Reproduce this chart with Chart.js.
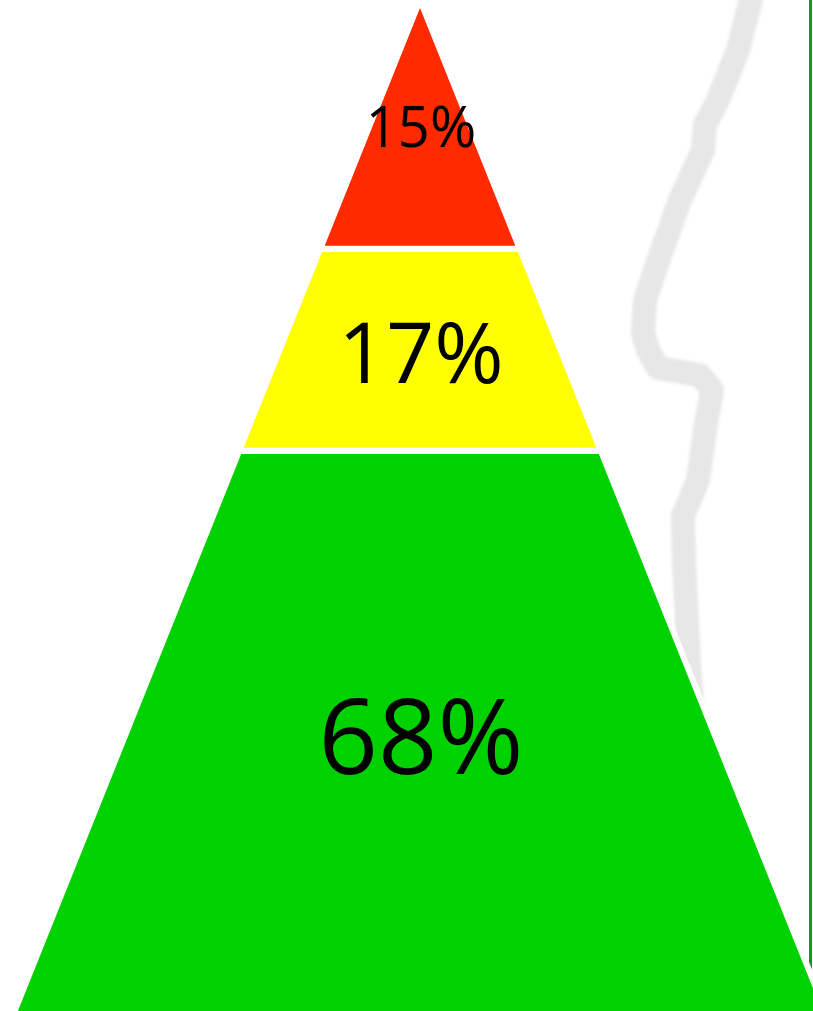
<!DOCTYPE html>
<html>
<head>
<meta charset="utf-8">
<script src="https://cdn.jsdelivr.net/npm/chart.js@4.4.1/dist/chart.umd.min.js"></script>
<style>
  html, body { margin: 0; padding: 0; background: #ffffff; }
  canvas { display: block; }
</style>
</head>
<body>
<canvas id="pyramid" width="813" height="1011"></canvas>
<script>
// pyramid levels, top to bottom
var levelLabels = ['15%', '17%', '68%'];
var levelValues = [15, 17, 68];
var levelColors = ['#ff2a00', '#ffff00', '#00d100'];
// level bounds in pyramid height (0 = base, 1 = apex)
var levelTops = [1, 0.755, 0.556];
var levelBottoms = [0.755, 0.556, 0];

var labelFontPx = [56, 84, 104];

// half width of the pyramid at height y (base half width = 1)
function halfWidth(y){
  return 1 - y;
}

var datasets = [];
for (var i = 0; i < levelLabels.length; i++) {
  var t = levelTops[i], b = levelBottoms[i];
  datasets.push({
    label: levelLabels[i],
    data: [
      {x: -halfWidth(b), y: b},
      {x: halfWidth(b), y: b},
      {x: halfWidth(t), y: t},
      {x: -halfWidth(t), y: t},
      {x: -halfWidth(b), y: b}
    ],
    showLine: true,
    fill: 'shape',
    backgroundColor: levelColors[i],
    borderColor: '#ffffff',
    borderWidth: 6,
    borderJoinStyle: 'miter',
    pointRadius: 0,
    tension: 0,
    clip: false
  });
}

// grey faded line and green frame line behind the pyramid
var backdrop = {
  id: 'backdrop',
  beforeDatasetsDraw: function(chart){
    var ctx = chart.ctx;
    ctx.save();
    ctx.strokeStyle = '#159a15';
    ctx.lineWidth = 3;
    ctx.beginPath();
    ctx.moveTo(810.5, 0);
    ctx.lineTo(810.5, 1011);
    ctx.stroke();

    var path = [[752,-5],[738,50],[718,100],[705,125],[703,150],[680,200],[662,250],
      [645,300],[643,333],[648,350],[658,368],[700,375],[712,390],[705,430],
      [698,480],[690,500],[683,515],[684,563],[689,663],[695,740]];
    ctx.filter = 'blur(1.5px)';
    ctx.strokeStyle = '#e7e7e7';
    ctx.lineWidth = 24;
    ctx.lineJoin = 'round';
    ctx.lineCap = 'round';
    ctx.beginPath();
    path.forEach(function(p, k){
      if (k == 0) ctx.moveTo(p[0], p[1]); else ctx.lineTo(p[0], p[1]);
    });
    ctx.stroke();
    ctx.restore();
  }
};

var levelText = {
  id: 'levelText',
  afterDatasetsDraw: function(chart){
    var ctx = chart.ctx;
    var xs = chart.scales.x, ys = chart.scales.y;
    ctx.save();
    ctx.fillStyle = '#000000';
    ctx.textAlign = 'center';
    ctx.textBaseline = 'alphabetic';
    for (var i = 0; i < levelLabels.length; i++) {
      var mid = (levelTops[i] + levelBottoms[i]) / 2;
      var px = labelFontPx[i];
      ctx.font = px + 'px "Open Sans", "Noto Sans", sans-serif';
      ctx.fillText(levelLabels[i], xs.getPixelForValue(0) + 1, ys.getPixelForValue(mid) + px * 0.4);
    }
    ctx.restore();
  }
};

var chart = new Chart(document.getElementById('pyramid').getContext('2d'), {
  type: 'scatter',
  data: { datasets: datasets },
  options: {
    responsive: false,
    animation: false,
    layout: { padding: 0 },
    scales: {
      x: { type: 'linear', min: -1.032, max: 0.9656, display: false },
      y: { type: 'linear', min: 0.004, max: 1, display: false }
    },
    plugins: {
      legend: { display: false },
      tooltip: { enabled: false }
    }
  },
  plugins: [backdrop, levelText]
});
</script>
</body>
</html>
